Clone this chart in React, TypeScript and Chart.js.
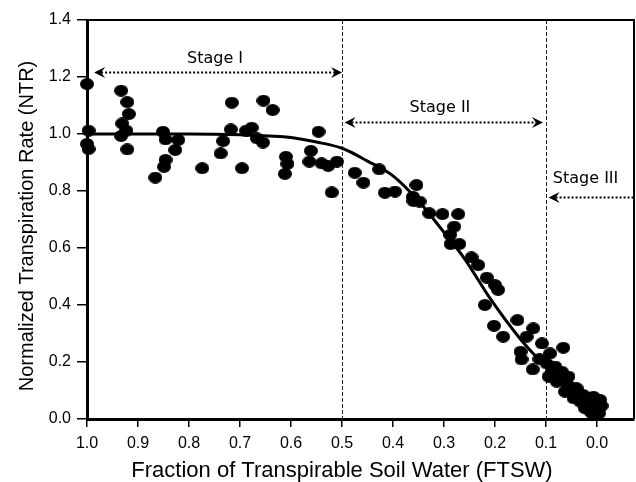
import React, { useEffect, useRef } from 'react';
import { Chart, registerables } from 'chart.js';

Chart.register(...registerables);

// Observed data (FTSW, NTR)
const POINT_FTSW = [
  1.0, 0.997, 1.0, 0.997,
  0.933, 0.921, 0.918, 0.931, 0.923, 0.933, 0.921,
  0.851, 0.846, 0.821, 0.827, 0.846, 0.849, 0.866, 0.774,
  0.716, 0.654, 0.636, 0.718, 0.733, 0.738, 0.688, 0.677, 0.667, 0.655, 0.696,
  0.61, 0.607, 0.612, 0.561, 0.546, 0.564, 0.54, 0.527, 0.51, 0.52,
  0.475, 0.458, 0.427, 0.416, 0.396, 0.354, 0.361, 0.348, 0.36, 0.329, 0.303, 0.272,
  0.28, 0.288, 0.287, 0.27, 0.246, 0.233, 0.216, 0.2, 0.194, 0.22, 0.156, 0.202, 0.184,
  0.125, 0.138,
  0.108, 0.066, 0.15, 0.148, 0.126, 0.092,
  0.099, 0.082, 0.069, 0.056, 0.095, 0.079, 0.053, 0.04, 0.063, 0.027, 0.007, -0.006,
  -0.009, 0.014, 0.033, 0.01, 0.0, 0.024, 0.046,
  0.113, 0.088, 0.072, 0.06, 0.045, 0.035, 0.018, 0.005, 0.015, -0.004,
];
const POINT_NTR = [
  1.175, 1.012, 0.965, 0.947,
  1.152, 1.112, 1.07, 1.037, 1.012, 0.993, 0.946,
  1.008, 0.981, 0.979, 0.944, 0.909, 0.885, 0.847, 0.88,
  1.11, 1.117, 1.084, 1.016, 0.975, 0.932, 1.012, 1.022, 0.985, 0.97, 0.88,
  0.92, 0.895, 0.86, 0.941, 1.008, 0.903, 0.897, 0.888, 0.903, 0.795,
  0.864, 0.829, 0.876, 0.794, 0.798, 0.821, 0.78, 0.763, 0.765, 0.722, 0.719, 0.719,
  0.675, 0.646, 0.614, 0.614, 0.567, 0.54, 0.496, 0.47, 0.453, 0.4, 0.347, 0.327, 0.289,
  0.318, 0.289,
  0.265, 0.25, 0.236, 0.209, 0.174, 0.23,
  0.195, 0.184, 0.166, 0.149, 0.149, 0.131, 0.113, 0.108, 0.096, 0.084, 0.078, 0.067,
  0.046, 0.055, 0.061, 0.02, 0.032, 0.038, 0.073,
  0.21, 0.17, 0.14, 0.125, 0.095, 0.085, 0.065, 0.045, 0.03, 0.02,
];

// Fitted curve
const CURVE_FTSW = [1.0, 0.9, 0.8, 0.7, 0.6, 0.55, 0.5, 0.45, 0.4, 0.35, 0.3, 0.26, 0.21, 0.15, 0.11];
const CURVE_NTR = [1.0, 1.0, 1.0, 0.997, 0.988, 0.972, 0.95, 0.905, 0.853, 0.765, 0.655, 0.563, 0.424, 0.28, 0.2];

const X_TICKS = [1.0, 0.9, 0.8, 0.7, 0.6, 0.5, 0.4, 0.3, 0.2, 0.1, 0.0];
const Y_TICKS = [0.0, 0.2, 0.4, 0.6, 0.8, 1.0, 1.2, 1.4];

const STAGE_BOUNDARIES = [0.5, 0.1];
const STAGE_LABELS = ['Stage I', 'Stage II', 'Stage III'];
const STAGE_LABEL_X = [0.749, 0.308, 0.0225];
const STAGE_LABEL_Y = [1.263, 1.091, 0.842];
const ARROW_START = [0.986, 0.495, 0.095];
const ARROW_END = [0.5, 0.106, -0.0725];
const ARROW_Y = [1.219, 1.043, 0.78];
const ARROW_END_HEAD = [true, true, false];

const X_TITLE = 'Fraction of Transpirable Soil Water (FTSW)';
const Y_TITLE = 'Normalized Transpiration Rate (NTR)';

const SANS = '"Liberation Sans", Arial, sans-serif';

function makeDot(): HTMLCanvasElement {
  const c = document.createElement('canvas');
  c.width = 14;
  c.height = 12;
  const g = c.getContext('2d')!;
  g.fillStyle = '#000';
  g.beginPath();
  g.ellipse(7, 6, 7, 6, 0, 0, Math.PI * 2);
  g.fill();
  return c;
}

function arrowHead(ctx: CanvasRenderingContext2D, x: number, y: number, dir: number) {
  ctx.beginPath();
  ctx.moveTo(x, y);
  ctx.lineTo(x - dir * 11, y - 5.5);
  ctx.lineTo(x - dir * 7, y);
  ctx.lineTo(x - dir * 11, y + 5.5);
  ctx.closePath();
  ctx.fill();
}

const stagePlugin = {
  id: 'stages',
  beforeDatasetsDraw(chart: any) {
    const { ctx, chartArea, scales } = chart;
    const x = scales.x;
    ctx.save();
    ctx.strokeStyle = '#222';
    ctx.lineWidth = 1;
    ctx.setLineDash([4, 2]);
    STAGE_BOUNDARIES.forEach((b) => {
      const px = Math.round(x.getPixelForValue(b)) + 0.5;
      ctx.beginPath();
      ctx.moveTo(px, chartArea.top);
      ctx.lineTo(px, chartArea.bottom);
      ctx.stroke();
    });
    ctx.restore();
  },
  afterDatasetsDraw(chart: any) {
    const { ctx, scales } = chart;
    const x = scales.x;
    const y = scales.y;
    ctx.save();
    ctx.fillStyle = '#000';
    ctx.strokeStyle = '#000';
    ARROW_Y.forEach((v, i) => {
      const py = Math.round(y.getPixelForValue(v)) + 0.5;
      const x1 = x.getPixelForValue(ARROW_START[i]);
      const x2 = x.getPixelForValue(ARROW_END[i]);
      ctx.setLineDash([2, 2]);
      ctx.lineWidth = 2;
      ctx.beginPath();
      ctx.moveTo(x1 + 7, py);
      ctx.lineTo(ARROW_END_HEAD[i] ? x2 - 7 : x2, py);
      ctx.stroke();
      ctx.setLineDash([]);
      arrowHead(ctx, x1, py, -1);
      if (ARROW_END_HEAD[i]) arrowHead(ctx, x2, py, 1);
    });
    ctx.font = '16px "DejaVu Sans", sans-serif';
    ctx.textAlign = 'center';
    ctx.textBaseline = 'middle';
    STAGE_LABELS.forEach((t, i) => {
      ctx.fillText(t, x.getPixelForValue(STAGE_LABEL_X[i]), y.getPixelForValue(STAGE_LABEL_Y[i]));
    });
    ctx.restore();
  },
  afterDraw(chart: any) {
    const { ctx, chartArea } = chart;
    ctx.save();
    ctx.strokeStyle = '#000';
    ctx.lineWidth = 2;
    ctx.beginPath();
    ctx.moveTo(chartArea.left, chartArea.top);
    ctx.lineTo(chartArea.right, chartArea.top);
    ctx.lineTo(chartArea.right, chartArea.bottom);
    ctx.stroke();
    ctx.fillStyle = '#000';
    ctx.font = '22px ' + SANS;
    ctx.textAlign = 'center';
    ctx.textBaseline = 'alphabetic';
    ctx.fillText(X_TITLE, 342, 477);
    ctx.translate(33, 226);
    ctx.rotate(-Math.PI / 2);
    ctx.font = '20px ' + SANS;
    ctx.fillText(Y_TITLE, 0, 0);
    ctx.restore();
  },
};

export default function App() {
  const ref = useRef<HTMLCanvasElement | null>(null);

  useEffect(() => {
    document.body.style.margin = '0';
    const canvas = ref.current;
    if (!canvas) return;
    const dot = makeDot();
    const points = POINT_FTSW.map((f, i) => ({ x: f, y: POINT_NTR[i] }));
    const curve = CURVE_FTSW.map((f, i) => ({ x: f, y: CURVE_NTR[i] }));

    const chart = new Chart(canvas, {
      type: 'scatter',
      data: {
        datasets: [
          {
            label: 'Observed',
            data: points,
            pointStyle: dot as any,
            pointRadius: 7,
            backgroundColor: '#000',
            borderColor: '#000',
            clip: false as any,
            order: 0,
          },
          {
            label: 'Fit',
            type: 'line' as any,
            data: curve,
            showLine: true,
            borderColor: '#000',
            borderWidth: 3,
            pointRadius: 0,
            cubicInterpolationMode: 'monotone',
            fill: false,
            order: 1,
          } as any,
        ],
      },
      options: {
        responsive: false,
        devicePixelRatio: 1,
        animation: false,
        events: [],
        layout: { autoPadding: false, padding: { top: 20, right: 2, left: 0, bottom: 0 } },
        plugins: {
          legend: { display: false },
          tooltip: { enabled: false },
          title: { display: false },
        },
        scales: {
          x: {
            type: 'linear',
            reverse: true,
            min: -0.0725,
            max: 1.0,
            afterFit: (s: any) => {
              s.height = 63;
              s.paddingLeft = 0;
              s.paddingRight = 0;
            },
            afterBuildTicks: (s: any) => {
              s.ticks = X_TICKS.map((v) => ({ value: v }));
            },
            border: { display: true, color: '#000', width: 3 },
            grid: {
              display: true,
              drawOnChartArea: false,
              drawTicks: true,
              tickLength: 8,
              tickWidth: 1.5,
              tickColor: '#000',
              lineWidth: 1.5,
            },
            ticks: {
              color: '#000',
              padding: 7,
              maxRotation: 0,
              autoSkip: false,
              font: { family: SANS, size: 16 },
              callback: (v: any) => Number(v).toFixed(1),
            },
          },
          y: {
            type: 'linear',
            min: 0,
            max: 1.4,
            afterFit: (s: any) => {
              s.width = 87;
              s.paddingTop = 0;
              s.paddingBottom = 0;
            },
            afterBuildTicks: (s: any) => {
              s.ticks = Y_TICKS.map((v) => ({ value: v }));
            },
            border: { display: true, color: '#000', width: 3 },
            grid: {
              display: true,
              drawOnChartArea: false,
              drawTicks: true,
              tickLength: 10,
              tickWidth: 1.5,
              tickColor: '#000',
              lineWidth: 1.5,
            },
            ticks: {
              color: '#000',
              padding: 6,
              autoSkip: false,
              font: { family: SANS, size: 16 },
              callback: (v: any) => Number(v).toFixed(1),
            },
          },
        },
      },
      plugins: [stagePlugin],
    });

    return () => {
      chart.destroy();
    };
  }, []);

  return (
    <div style={{ width: 636, height: 482 }}>
      <canvas ref={ref} width={636} height={482} style={{ display: 'block', width: 636, height: 482 }} />
    </div>
  );
}
